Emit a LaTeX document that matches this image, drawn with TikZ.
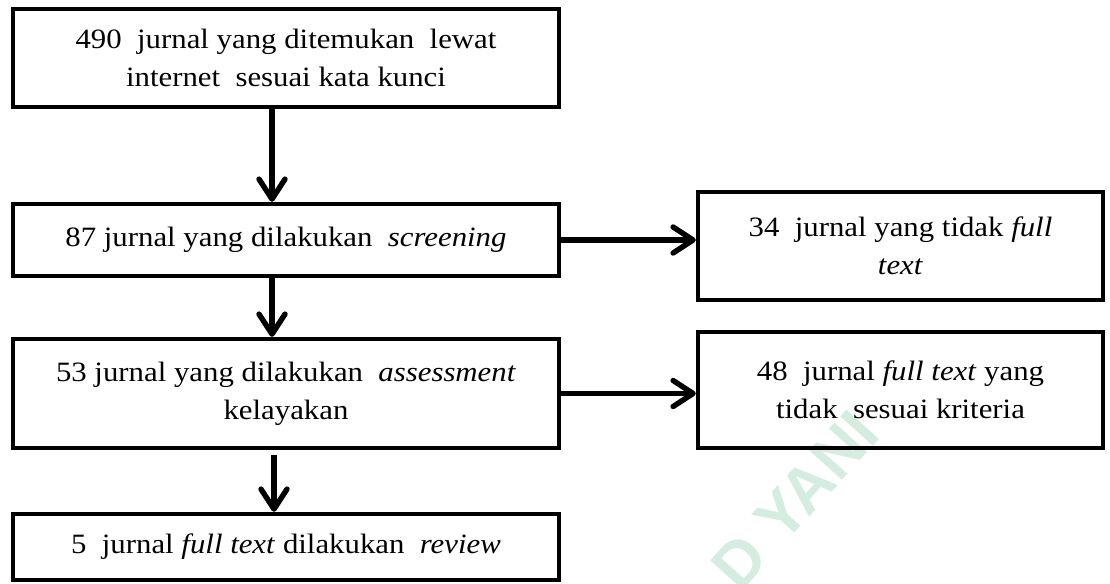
\documentclass[tikz,border=0pt]{standalone}
\usepackage{fontspec}
\setmainfont{Liberation Serif}[FakeStretch=1.1]
\newfontfamily\wmfont{Liberation Sans}
\usepackage{tikz}
\usetikzlibrary{positioning}
\usetikzlibrary{calc}
\usetikzlibrary {arrows.meta,bending}
\definecolor{wmgreen}{RGB}{212,237,224}

\tikzset{
  box/.style={draw, line width=2.2pt, align=center, inner sep=0pt, font=\fontsize{14pt}{19pt}\selectfont},
  flow/.style={line width=2.7pt, -{Straight Barb[length=10pt, width=13pt, round]}},
  watermark/.style={text=wmgreen, font=\wmfont\bfseries\fontsize{32pt}{32pt}\selectfont, inner sep=0pt}
}

\begin{document}
\begin{tikzpicture}[x=0.5pt, y=-0.5pt]
\useasboundingbox (0, 0) rectangle (1110, 584);
\node[watermark, rotate=48] (wm) at (795, 500) {D YANI};

\node[box, minimum width=273pt, minimum height=49pt] (found) at (286, 58) {490\ \ jurnal yang ditemukan\ \ lewat\\internet\ \ sesuai kata kunci};
\node[box, minimum width=273pt, minimum height=36pt] (screen) at (286, 240) {87 jurnal yang dilakukan\ \ \textit{screening}};
\node[box, minimum width=273pt, minimum height=54.5pt] (assess) at (286, 393.5) {53 jurnal yang dilakukan\ \ \textit{assessment}\\kelayakan};
\node[box, minimum width=273pt, minimum height=33pt] (review) at (286, 547) {5\ \ jurnal \textit{full text} dilakukan\ \ \textit{review}};

\node[box, minimum width=202.5pt, minimum height=54pt] (nofull) at (900.5, 246) {34\ \ jurnal yang tidak \textit{full}\\\textit{text}};
\node[box, minimum width=202.5pt, minimum height=58pt] (kriteria) at (900.5, 390) {48\ \ jurnal \textit{full text} yang\\tidak\ \ sesuai kriteria};

\coordinate (col) at (272, 0);
\coordinate (col5) at (274, 0);
\draw[flow] (found.south -| col) -- (screen.north -| col);
\draw[flow] (screen.south -| col) -- (assess.north -| col);
\draw[flow] ($(assess.south -| col5) + (0, 5)$) -- (review.north -| col5);
\draw[flow] (screen.east) -- (screen.east -| nofull.west);
\draw[flow] (assess.east) -- (assess.east -| kriteria.west);
\end{tikzpicture}
\end{document}
